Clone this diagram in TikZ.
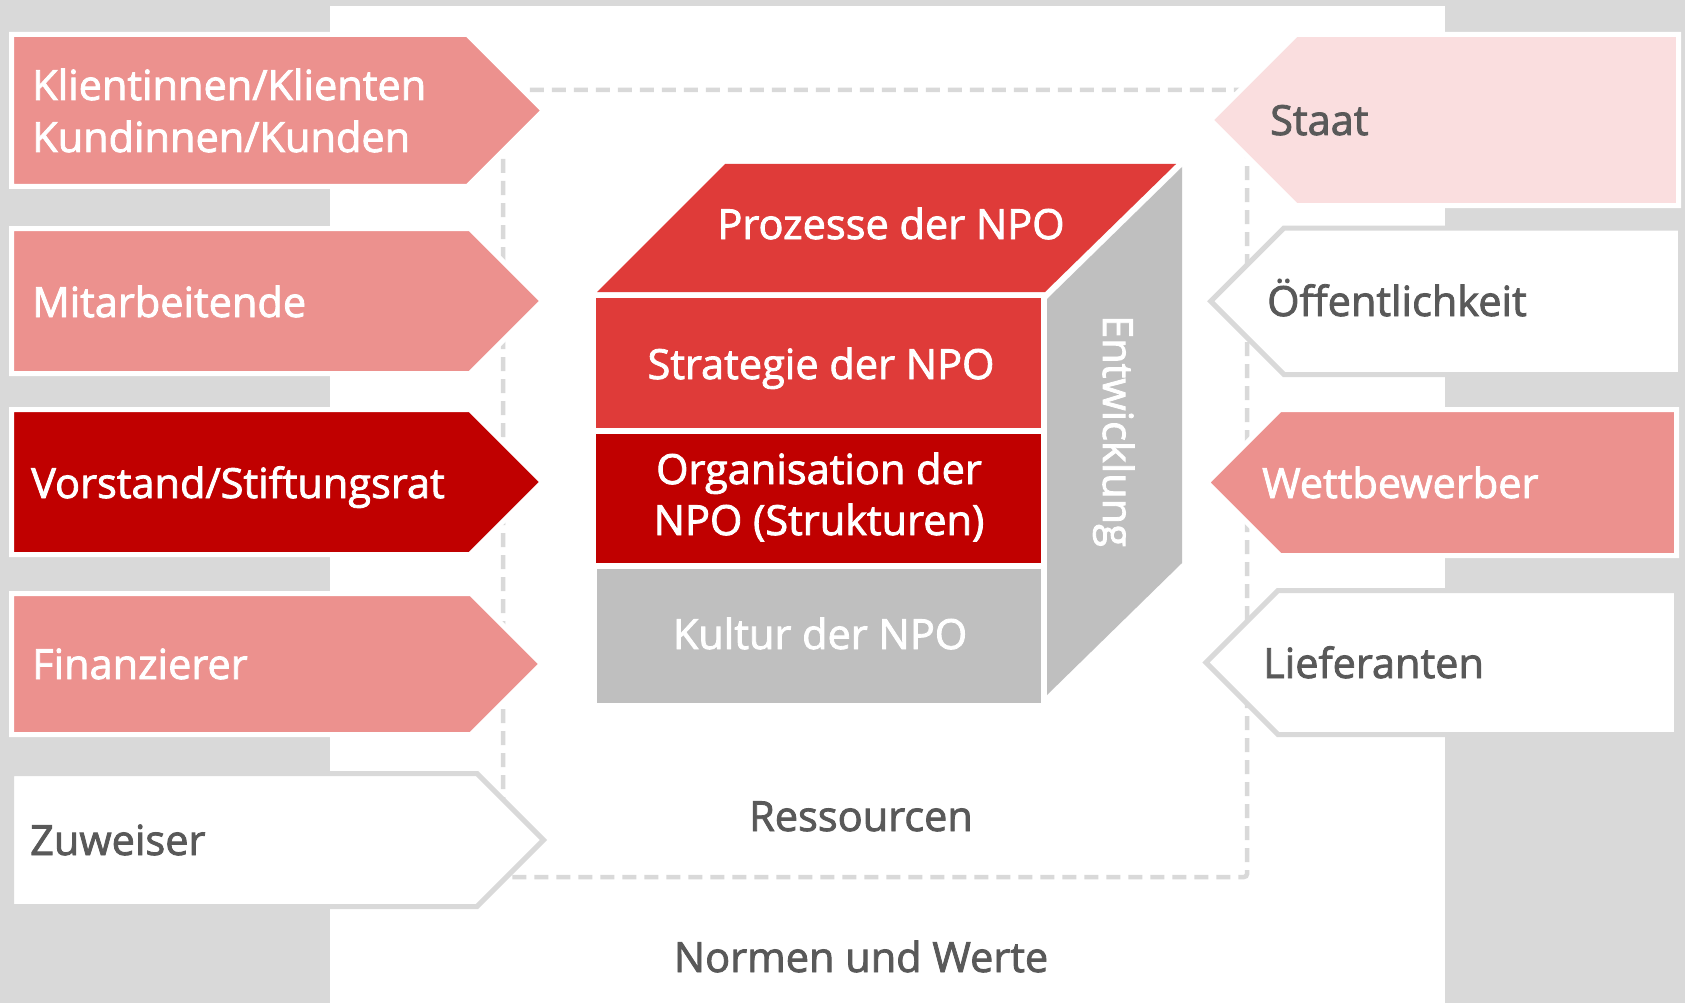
\documentclass[tikz,border=0pt]{standalone}
\usepackage{fontspec}
\setmainfont{Open Sans}[RawFeature={embolden=2}]
\definecolor{bggray}{HTML}{D9D9D9}
\definecolor{pinkA}{HTML}{EC918E}
\definecolor{pinkL}{HTML}{FADEDF}
\definecolor{redA}{HTML}{DF3B39}
\definecolor{redD}{HTML}{C00000}
\definecolor{grayC}{HTML}{BFBFBF}
\definecolor{txtgray}{HTML}{595959}
% left-pointing-right arrow: #1 left, #2 top, #3 bottom, #4 body end, #5 fill, #6 stroke
\newcommand\myLarrow[6]{\path[fill=#5,draw=#6,line width=5pt,line join=miter]
  (#1,#2) -- (#4,#2) -- ({#4+(#3-#2)/2},{(#2+#3)/2}) -- (#4,#3) -- (#1,#3) -- cycle;}
% right-side arrow pointing left: #1 right, #2 top, #3 bottom, #4 body start
\newcommand\myRarrow[6]{\path[fill=#5,draw=#6,line width=5pt,line join=miter]
  (#1,#2) -- (#4,#2) -- ({#4-(#3-#2)/2},{(#2+#3)/2}) -- (#4,#3) -- (#1,#3) -- cycle;}
\begin{document}
\begin{tikzpicture}[x=1pt,y=-1pt,
  lbl/.style={font=\fontsize{41.5}{50}\selectfont, inner sep=0pt, anchor=base west},
  ctr/.style={font=\fontsize{41.5}{50}\selectfont, inner sep=0pt, anchor=base},
  wtxt/.style={text=white},
  gtxt/.style={text=txtgray}]
\useasboundingbox (0,0) rectangle (1685,1003);
% background
\fill[bggray] (0,0) rectangle (1685,1003);
\fill[white] (330,6) rectangle (1445,1003);
% dashed resource box
\draw[bggray, line width=4.5pt, dash pattern=on 14pt off 8pt, rounded corners=3pt]
  (503,90) rectangle (1247,877);
% left arrows
\myLarrow{11.5}{34.5}{186.5}{467.5}{pinkA}{white}
\myLarrow{11.5}{228.5}{373.5}{470}{pinkA}{white}
\myLarrow{11.5}{409.5}{554.5}{470}{redD}{white}
\myLarrow{11.5}{593.5}{734.5}{471}{pinkA}{white}
\myLarrow{11.5}{773.5}{906.5}{477}{white}{bggray}
% right arrows
\myRarrow{1678.5}{34.5}{205.5}{1296}{pinkL}{white}
\myRarrow{1680.5}{228}{374.5}{1284}{white}{bggray}
\myRarrow{1676.5}{409.5}{555.5}{1280}{pinkA}{white}
\myRarrow{1676.5}{590.5}{734.5}{1278}{white}{bggray}
% cube
\fill[redA] (597,292) -- (1045,292) -- (1176,164) -- (725,164) -- cycle;
\fill[grayC] (1047,299) -- (1182,167) -- (1182,563) -- (1047,695) -- cycle;
\fill[redA] (596,298) rectangle (1041,428);
\fill[redD] (596,434) rectangle (1041,563);
\fill[grayC] (597,569) rectangle (1041,703);
% cube texts
\node[ctr,wtxt] (proz) at (891,239) {Prozesse der NPO};
\node[ctr,wtxt] (strat) at (821,379) {Strategie der NPO};
\node[ctr,wtxt] (orga) at (819,484) {Organisation der};
\node[ctr,wtxt] (orgb) at (819,535) {NPO (Strukturen)};
\node[ctr,wtxt] (kult) at (820,649) {Kultur der NPO};
\node[ctr, rotate=-90, text=white] (entw) at (1103,431) {Entwicklung};
\node[ctr,gtxt] (ress) at (861,831) {Ressourcen};
\node[ctr,gtxt] (norm) at (861,972) {Normen und Werte};
% left labels
\node[lbl,wtxt] (kl1) at (32,100) {Klientinnen/Klienten};
\node[lbl,wtxt] (kl2) at (32,152) {Kundinnen/Kunden};
\node[lbl,wtxt] (mit) at (32,317) {Mitarbeitende};
\node[lbl,wtxt] (vor) at (31,498) {Vorstand/Stiftungsrat};
\node[lbl,wtxt] (fin) at (32,679) {Finanzierer};
\node[lbl,gtxt] (zuw) at (30,855) {Zuweiser};
% right labels
\node[lbl,gtxt] (staat) at (1270,135) {Staat};
\node[lbl,gtxt] (oeff) at (1267,316) {Öffentlichkeit};
\node[lbl,wtxt] (wett) at (1262,498) {Wettbewerber};
\node[lbl,gtxt] (lief) at (1263,678) {Lieferanten};
\end{tikzpicture}
\end{document}
